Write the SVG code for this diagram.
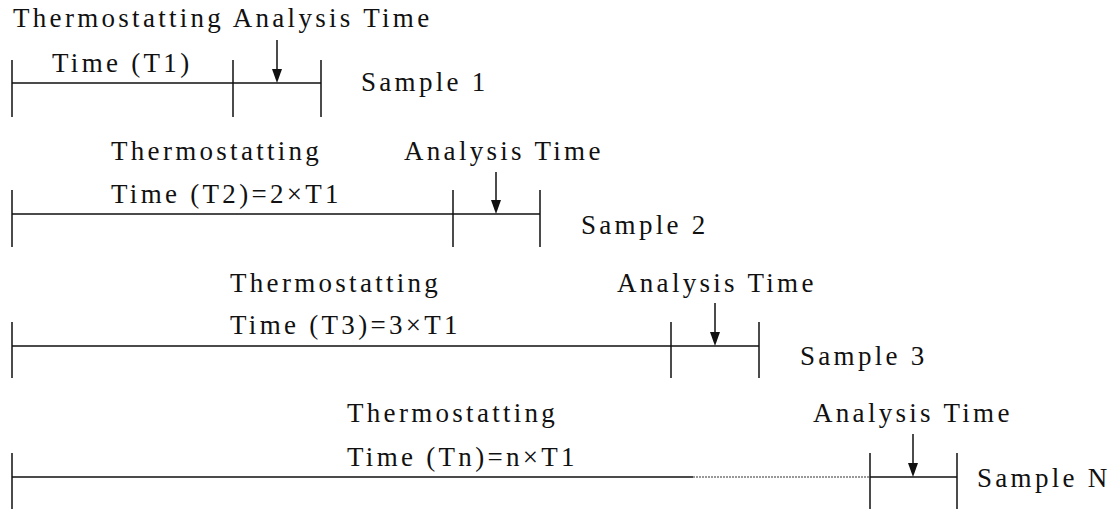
<svg xmlns="http://www.w3.org/2000/svg" width="1119" height="512" viewBox="0 0 1119 512">
<defs>
<style>
text{font-family:"Liberation Serif","Times New Roman",serif;font-size:27px;letter-spacing:3.3px;fill:#111}
.ln{stroke:#111;stroke-width:1.5;fill:none}
.dot{stroke:#333;stroke-width:1.2;stroke-dasharray:2 1;fill:none}
</style>
</defs>
<rect width="1119" height="512" fill="#fff"/>
<g id="sample1">
<path class="ln" d="M12,83H321M12,60V117M233,60V117M321,60V117"/>
<text x="13" y="27">Thermostatting Analysis Time</text>
<text x="52" y="72">Time (T1)</text>
<text x="361" y="91">Sample 1</text>
</g>
<g id="sample2">
<path class="ln" d="M12,214H540M12,190V247M453,190V247M540,190V247"/>
<text x="111" y="160">Thermostatting</text>
<text x="111" y="203">Time (T2)=2×T1</text>
<text x="404" y="160">Analysis Time</text>
<text x="581" y="234">Sample 2</text>
</g>
<g id="sample3">
<path class="ln" d="M12,346H759M12,322V378M671,322V378M759,322V378"/>
<text x="230" y="292">Thermostatting</text>
<text x="230" y="334">Time (T3)=3×T1</text>
<text x="617" y="292">Analysis Time</text>
<text x="800" y="365">Sample 3</text>
</g>
<g id="sampleN">
<path class="ln" d="M12,477H693M870,477H957M12,453V509M870,453V509M957,453V509"/>
<path class="dot" d="M693,477H870"/>
<text x="347" y="422">Thermostatting</text>
<text x="347" y="466">Time (Tn)=n×T1</text>
<text x="813" y="422">Analysis Time</text>
<text x="977" y="487">Sample N</text>
</g>
<g id="connectors">
<path class="ln" d="M277,40V70"/><path d="M272,69H282L277,83Z" fill="#111"/>
<path class="ln" d="M496,172V201"/><path d="M491,200H501L496,214Z" fill="#111"/>
<path class="ln" d="M715,303V333"/><path d="M710,332H720L715,346Z" fill="#111"/>
<path class="ln" d="M913,434V464"/><path d="M908,463H918L913,477Z" fill="#111"/>
</g>
</svg>
